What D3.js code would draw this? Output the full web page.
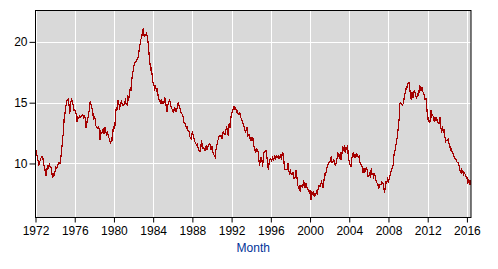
<!DOCTYPE html>
<html><head><meta charset="utf-8">
<script src="https://cdn.jsdelivr.net/npm/d3@7"></script>
<style>
body{margin:0;background:#fff}
svg{display:block}
text{font-family:"Liberation Sans",Arial,sans-serif}
</style>
</head><body>
<script>
// Monthly values, Jan 1972 .. Jun 2016
const values1970s = [
 11.1,11.1,10.6,10.3,9.8,10.1,10.3,10.5,10.6,10.5,9.9,9.8,
 9.3,9.0,9.5,9.9,9.7,9.9,9.7,9.7,9.2,8.8,9.2,9.0,
 9.4,9.7,9.6,9.8,10.0,10.1,10.0,10.5,11.1,11.9,12.5,13.6,
 14.1,14.6,15.1,15.2,15.3,14.9,14.1,14.9,15.3,15.2,14.8,14.4,
 14.4,14.3,14.0,13.4,13.8,13.7,13.9,13.8,13.9,14.0,14.0,13.8,
 13.9,13.7,12.9,13.4,13.7,14.0,14.5,15.1,14.8,14.6,14.3,13.6,
 13.8,13.7,13.1,13.0,12.9,13.0,12.8,11.9,12.6,12.5,12.6,12.9,
 12.4,13.0,12.6,12.4,12.7,12.3,12.1,11.9,11.6,12.1,12.0,12.8
];
const values1980s = [
 13.0,12.9,14.1,14.6,14.4,15.2,14.9,14.6,14.8,15.1,14.9,14.8,
 14.8,15.0,15.2,14.9,14.8,15.6,15.3,15.5,16.3,16.0,17.0,17.4,
 17.9,18.2,18.3,18.4,18.5,18.6,18.9,19.4,19.8,20.2,20.4,20.9,
 21.1,20.4,20.6,20.5,20.7,20.4,19.8,19.0,18.3,17.6,17.9,17.0,
 16.6,16.4,16.1,16.3,16.0,16.2,15.6,15.3,15.1,15.0,15.3,14.9,
 15.1,14.9,15.4,15.3,14.7,14.2,14.8,15.0,15.2,15.1,14.6,14.5,
 14.3,14.2,14.6,14.5,14.3,14.4,14.9,15.0,14.6,14.5,14.2,14.1,
 14.0,13.7,13.3,13.3,13.1,12.9,13.0,12.6,12.6,12.2,12.1,12.0,
 12.7,12.3,12.1,11.8,11.7,11.5,11.6,11.3,11.1,11.0,11.0,11.9,
 11.6,11.2,11.3,11.1,11.1,11.5,11.1,11.4,11.5,11.6,11.5,11.1
];
const values1990s = [
 11.4,10.9,10.8,10.6,10.5,11.2,11.5,11.9,12.0,12.3,12.2,12.3,
 12.0,12.3,12.7,12.4,12.4,12.7,13.1,12.5,12.3,13.3,12.9,13.7,
 14.1,14.3,14.5,14.7,14.5,14.6,14.2,14.3,14.1,14.0,14.2,13.8,
 13.7,13.5,13.3,13.1,12.9,12.5,12.8,13.0,12.3,12.4,12.3,11.9,
 12.1,11.9,12.2,11.6,11.2,11.0,11.2,11.0,11.1,10.7,9.8,10.2,
 10.5,10.3,9.7,10.7,11.0,11.0,11.1,10.7,10.0,9.5,10.1,10.3,
 10.4,10.1,10.6,10.3,10.4,10.6,10.4,10.6,10.5,10.6,10.4,10.6,
 10.7,10.3,10.9,10.8,10.2,9.5,9.5,9.5,9.5,10.0,9.4,9.2,
 9.4,9.1,9.1,9.3,8.8,8.8,8.9,9.5,8.8,8.2,8.0,8.2,
 7.7,8.2,8.2,8.0,8.6,8.4,8.0,8.4,8.1,7.9,7.8,7.6
];
const values2000s = [
 7.8,7.0,7.7,7.5,7.6,7.3,7.5,7.4,7.8,7.6,7.9,8.2,
 8.1,8.3,8.5,8.3,8.0,8.6,9.2,9.0,9.5,9.7,9.9,10.1,
 10.1,10.2,10.6,10.1,10.1,10.3,10.1,9.8,10.1,10.4,10.9,10.6,
 10.5,10.9,10.3,10.8,11.4,11.0,11.5,10.9,11.3,11.2,11.5,10.4,
 10.2,9.9,9.7,10.4,10.7,10.9,10.5,10.8,10.5,10.8,10.7,10.5,
 10.6,10.1,10.0,9.8,9.7,9.2,9.6,9.3,9.4,9.7,9.4,8.9,
 9.0,9.3,8.8,9.6,9.1,9.2,8.9,9.1,8.9,8.5,8.4,8.3,
 7.9,8.3,8.3,8.3,8.5,8.4,8.3,7.6,8.0,8.5,8.4,8.9,
 8.4,8.8,9.0,9.3,9.5,9.7,10.0,10.9,11.1,11.5,11.9,12.3,
 13.0,13.7,14.9,15.0,14.9,14.8,14.9,15.3,15.7,15.9,16.4,16.2
];
const values2010s = [
 16.6,16.7,16.3,15.5,15.2,15.9,15.4,15.9,16.0,15.7,15.4,15.5,
 15.7,15.6,16.4,16.3,16.0,16.3,15.9,15.8,15.6,15.2,15.4,14.5,
 13.6,13.8,13.3,13.5,14.4,13.9,14.0,13.8,13.4,13.8,13.5,13.8,
 13.4,13.3,13.3,13.8,13.0,12.7,12.9,12.6,12.8,12.2,11.8,11.9,
 11.9,12.0,11.7,11.5,11.1,11.2,10.9,10.8,10.6,10.5,10.3,10.3,
 10.1,10.1,10.0,9.6,9.3,9.5,9.2,9.4,9.1,9.2,9.1,8.9,
 8.9,8.3,8.7,8.5,8.2,8.6
];
const xTickYears = [1972,1976,1980,1984,1988,1992,1996,2000,2004,2008,2012,2016];
const yTickValues = [10,15,20];
const xAxisTitle = "Month";

const allValues = [].concat(values1970s, values1980s, values1990s, values2000s, values2010s);
const start = new Date(1972, 0, 1);
const data = allValues.map((v, i) => ({date: d3.timeMonth.offset(start, i), value: v}));

const W = 498, H = 269;
const L = 35.5, R = 471, T = 10, B = 217;

const svg = d3.select("body").append("svg").attr("width", W).attr("height", H);

const x = d3.scaleTime()
  .domain([start, data[data.length - 1].date])
  .range([L, R]);
const y = d3.scaleLinear().domain([5.6, 22.62]).range([B, T]);

svg.append("rect").attr("x", L).attr("y", T).attr("width", R - L).attr("height", B - T)
  .attr("fill", "#d9d9d9");

const xTicks = xTickYears.map(yr => new Date(yr, 0, 1));
// grid
svg.append("g").selectAll("line").data(xTicks).join("line")
  .attr("x1", d => Math.round(x(d)) + 0.5).attr("x2", d => Math.round(x(d)) + 0.5)
  .attr("y1", T).attr("y2", B).attr("stroke", "#fff").attr("stroke-width", 1);
svg.append("g").selectAll("line").data(yTickValues).join("line")
  .attr("y1", d => Math.round(y(d)) + 0.5).attr("y2", d => Math.round(y(d)) + 0.5)
  .attr("x1", L).attr("x2", R).attr("stroke", "#fff").attr("stroke-width", 1);

// line
const line = d3.line().x(d => x(d.date)).y(d => y(d.value));
svg.append("path").datum(data).attr("d", line)
  .attr("fill", "none").attr("stroke", "#a50000").attr("stroke-width", 1.2)
  .attr("shape-rendering", "crispEdges");

// frame
svg.append("rect").attr("x", L).attr("y", T + 0.5).attr("width", R - L).attr("height", B - T)
  .attr("fill", "none").attr("stroke", "#000").attr("stroke-width", 1);

// axes
const xAxis = d3.axisBottom(x).tickValues(xTicks).tickFormat(d3.timeFormat("%Y"))
  .tickSizeOuter(0).tickSize(5).tickPadding(4);
const gx = svg.append("g").attr("transform", `translate(0,${B + 0.5})`).call(xAxis);
gx.select(".domain").remove();
gx.selectAll("text").attr("font-size", 12).attr("fill", "#000")
  .attr("font-family", '"Liberation Sans", Arial, sans-serif');
gx.selectAll("line").attr("stroke", "#000");

const yAxis = d3.axisLeft(y).tickValues(yTickValues).tickFormat(d3.format("d"))
  .tickSizeOuter(0).tickSize(6).tickPadding(2);
const gy = svg.append("g").attr("transform", `translate(${L},0)`).call(yAxis);
gy.select(".domain").remove();
gy.selectAll("text").attr("font-size", 12).attr("fill", "#000")
  .attr("font-family", '"Liberation Sans", Arial, sans-serif');
gy.selectAll("line").attr("stroke", "#000");

svg.append("text").attr("x", (L + R) / 2).attr("y", 252)
  .attr("text-anchor", "middle").attr("font-size", 12).attr("fill", "#003399")
  .text(xAxisTitle);
</script>
</body></html>
